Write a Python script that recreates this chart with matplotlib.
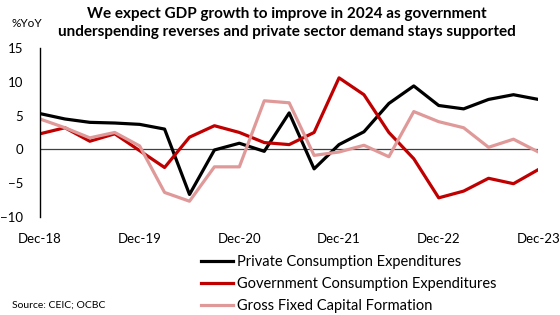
import matplotlib
matplotlib.use("Agg")
from matplotlib import pyplot as plt

plt.rcParams['font.family'] = ['Lato', 'DejaVu Sans']

# quarterly, Dec-18 .. Dec-23
quarters = list(range(21))
tick_pos = [0, 4, 8, 12, 16, 20]
tick_labels = ['Dec-18', 'Dec-19', 'Dec-20', 'Dec-21', 'Dec-22', 'Dec-23']

private = [5.3, 4.5, 4.0, 3.9, 3.7, 3.0, -6.7, -0.1, 0.9, -0.3, 5.4,
           -2.9, 0.7, 2.6, 6.8, 9.4, 6.5, 6.0, 7.4, 8.1, 7.4]
government = [2.3, 3.2, 1.2, 2.3, -0.2, -2.7, 1.8, 3.5, 2.5, 1.0, 0.7,
              2.5, 10.6, 8.1, 2.5, -1.4, -7.2, -6.2, -4.3, -5.1, -3.0]
gfcf = [4.5, 3.2, 1.7, 2.5, 0.5, -6.4, -7.7, -2.6, -2.6, 7.2, 6.9,
        -0.9, -0.4, 0.6, -1.1, 5.6, 4.1, 3.2, 0.3, 1.5, -0.4]

fig = plt.figure(figsize=(5.6, 3.15), dpi=100)
ax = fig.add_axes([0.0714, 0.312, 0.890, 0.535])

ax.plot(quarters, private, color='black', lw=2.3, label='Private Consumption Expenditures')
ax.plot(quarters, government, color='#C00000', lw=2.3, label='Government Consumption Expenditures')
ax.plot(quarters, gfcf, color='#E09999', lw=2.3, label='Gross Fixed Capital Formation')

ax.axhline(0, color='#404040', lw=0.9, zorder=0)
ax.set_xlim(0, 20)
ax.set_ylim(-10, 15)
ax.set_yticks([-10, -5, 0, 5, 10, 15])
ax.set_xticks(tick_pos)
ax.set_xticklabels(tick_labels)
ax.tick_params(axis='both', length=0, labelsize=9.5)
ax.tick_params(axis='y', pad=12)
ax.tick_params(axis='x', pad=12)
for s in ['top', 'right', 'bottom']:
    ax.spines[s].set_visible(False)
ax.spines['left'].set_linewidth(1.0)

fig.text(0.512, 0.927, 'We expect GDP growth to improve in 2024 as government\n'
         'underspending reverses and private sector demand stays supported',
         ha='center', va='center', fontsize=11, fontweight='bold', linespacing=1.4)
fig.text(0.021, 0.925, '%YoY', fontsize=8.5, va='center')
fig.text(0.021, 0.032, 'Source: CEIC; OCBC', fontsize=7.5, va='center')

fig.legend(loc='upper left', bbox_to_anchor=(0.359, 0.191), frameon=False,
           fontsize=10.5, handlelength=2.2, handletextpad=0.27, labelspacing=0.55,
           borderaxespad=0, borderpad=0)

fig.savefig('out.png', dpi=100)
